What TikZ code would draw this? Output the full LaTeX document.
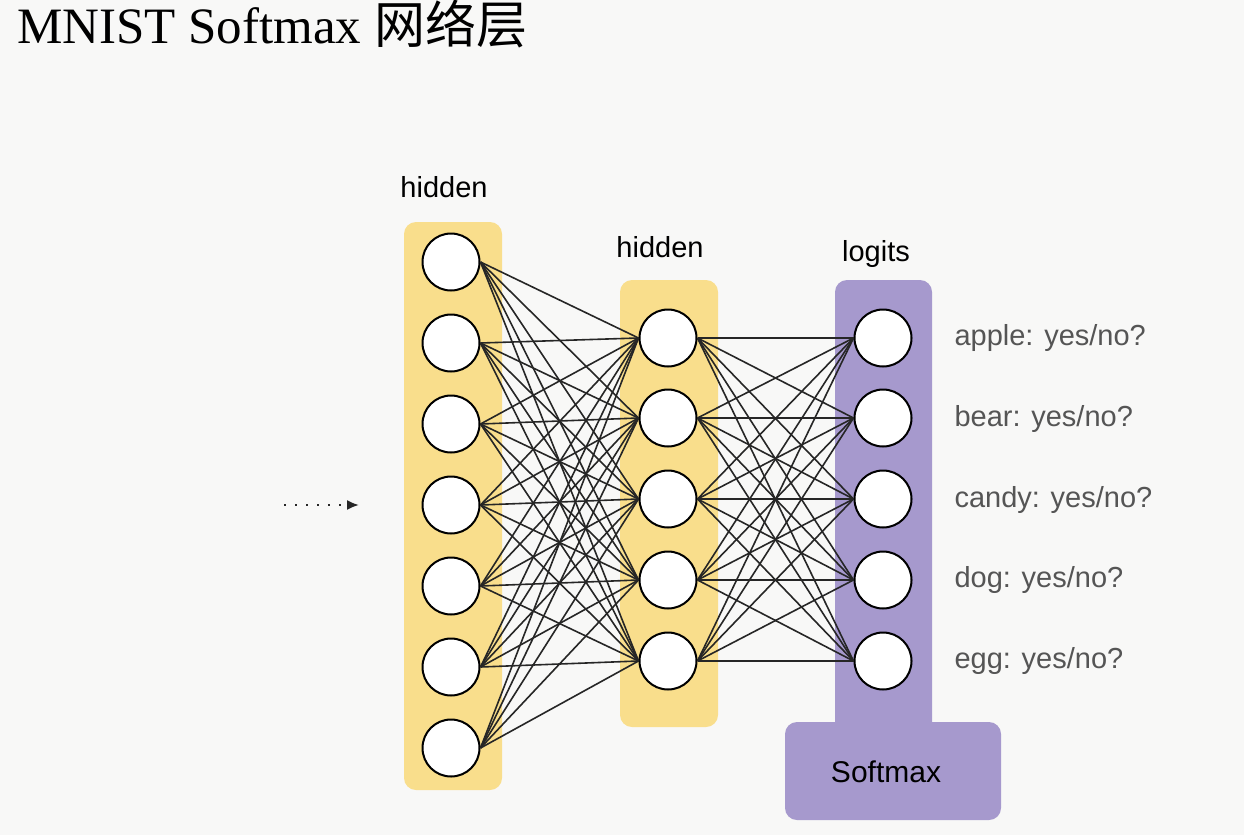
\documentclass[tikz,border=0pt]{standalone}
\usepackage{fontspec}
\setmainfont{Liberation Serif}
\setsansfont{Liberation Sans}
\newfontfamily\cjk{Noto Sans CJK SC}
\usetikzlibrary{arrows.meta}
\definecolor{bg}{HTML}{F8F8F7}
\definecolor{ylw}{HTML}{F9DE8C}
\definecolor{prp}{HTML}{A699CD}
\definecolor{edge}{HTML}{262626}
\definecolor{lbl}{HTML}{555555}
\tikzset{
  neuron/.style={circle,draw=black,line width=2pt,fill=white,minimum size=57pt,inner sep=0pt},
  conn/.style={draw=edge,line width=1.6pt},
  layerbox/.style={rounded corners=12pt},
  toplabel/.style={font=\sffamily\fontsize{29}{30}\selectfont,text=black,anchor=base},
  outlabel/.style={font=\sffamily\fontsize{29}{30}\selectfont,text=lbl,anchor=west},
}
\begin{document}
\begin{tikzpicture}[x=1pt,y=-1pt]
\fill[bg] (0,0) rectangle (1244,835);
\useasboundingbox (0,0) rectangle (1244,835);
% title
\node[anchor=base west,inner sep=0pt,font=\fontsize{51}{52}\selectfont] (title) at (17,43) {MNIST Softmax {\cjk 网络层}};
% boxes
\fill[ylw,layerbox] (404,222) rectangle (502,790);
\fill[ylw,layerbox] (620,280) rectangle (718,727);
\fill[prp,layerbox] (835,280) rectangle (932,735);
\fill[prp,layerbox] (785,722) rectangle (1001,820);
% labels
\node[toplabel] (h1) at (444,197) {hidden};
\node[toplabel] (h2) at (660,257) {hidden};
\node[toplabel] (lg) at (876,261) {logits};
\node[font=\sffamily\fontsize{30}{31}\selectfont] (sm) at (886,772) {Softmax};
% neurons
\foreach \i/\y in {1/262,2/343,3/424,4/505,5/586,6/667,7/748}
  \node[neuron] (a\i) at (451,\y) {};
\foreach \i/\y in {1/338,2/418,3/499,4/580,5/661}{
  \node[neuron] (b\i) at (668,\y) {};
  \node[neuron] (c\i) at (883,\y) {};
}
% connections
\foreach \i in {1,...,7}
  \foreach \j in {1,...,5}
    \draw[conn] (a\i.east) -- (b\j.west);
\foreach \i in {1,...,5}
  \foreach \j in {1,...,5}
    \draw[conn] (b\i.east) -- (c\j.west);
% output labels
\foreach \i/\t in {1/{apple: yes/no?},2/{bear: yes/no?},3/{candy: yes/no?},4/{dog: yes/no?},5/{egg: yes/no?}}
  \node[outlabel] (o\i) at (951,{338+80.75*(\i-1)}) {\t};
% dotted input arrow
\coordinate (in0) at (284,505);
\coordinate (in1) at (359,505);
\draw[line width=2pt,dash pattern=on 2pt off 9pt,-{Latex[length=12pt,width=10pt]},edge] (in0) -- (in1);
\end{tikzpicture}
\end{document}
